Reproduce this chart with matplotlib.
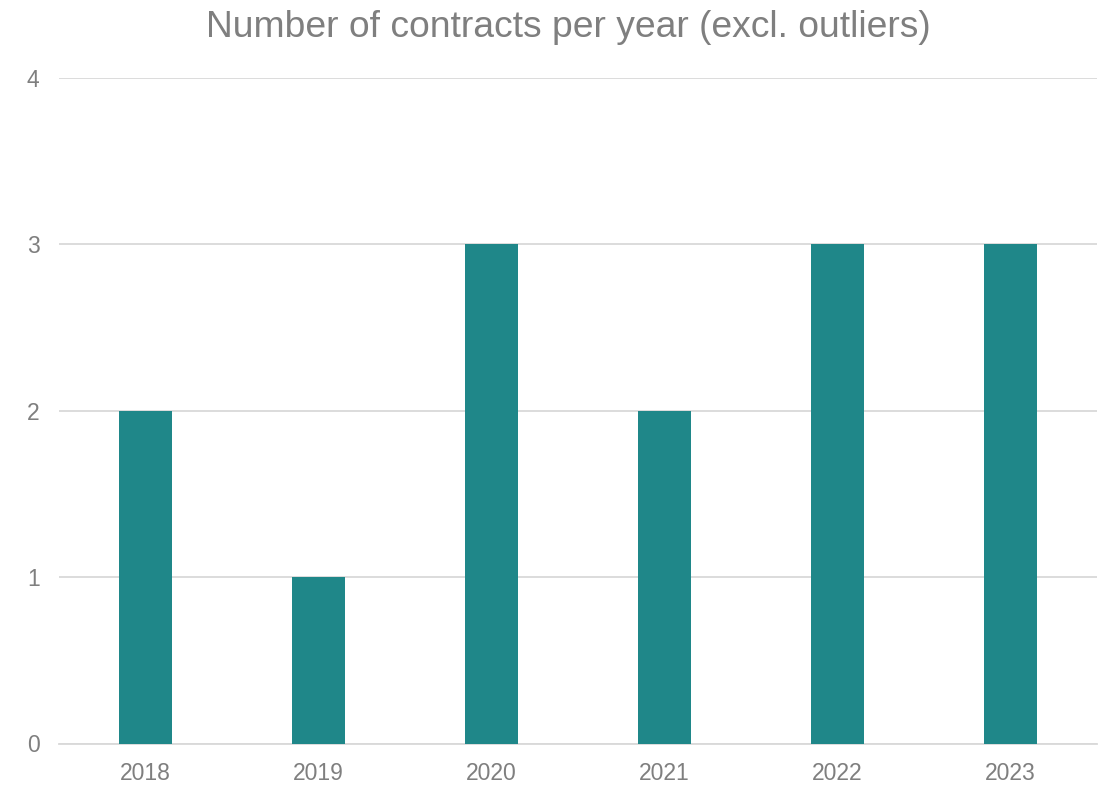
import matplotlib
matplotlib.use("Agg")
import matplotlib.pyplot as plt

years = ["2018", "2019", "2020", "2021", "2022", "2023"]
contracts = [2, 1, 3, 2, 3, 3]
y_ticks = [0, 1, 2, 3, 4]
title = "Number of contracts per year (excl. outliers)"

BAR = "#1F8789"
TEXT = "#7F7F7F"
GRID = "#D9D9D9"

plt.rcParams["font.family"] = ["Liberation Sans", "DejaVu Sans"]

W, H = 1098, 786
fig = plt.figure(figsize=(W / 100, H / 100), dpi=100)
left, right, top, bottom = 59, 1097, 78, 743.5
ax = fig.add_axes([left / W, 1 - bottom / H, (right - left) / W, (bottom - top) / H])

x = range(len(years))
ax.bar(x, contracts, width=0.31, color=BAR, zorder=3)

ax.set_xlim(-0.5, len(years) - 0.5)
ax.set_ylim(0, 4)
ax.set_yticks(y_ticks)
ax.set_xticks(list(x))
ax.set_xticklabels(years)
ax.tick_params(axis="both", length=0, colors=TEXT, labelsize=16.5)
ax.tick_params(axis="y", pad=14)
ax.tick_params(axis="x", pad=13)
ax.yaxis.grid(True, color=GRID, linewidth=1.3, zorder=0)
for s in ["top", "right", "left"]:
    ax.spines[s].set_visible(False)
ax.spines["bottom"].set_color(GRID)
ax.spines["bottom"].set_linewidth(1.3)

fig.text(568.5 / W, 1 - 37 / H, title, ha="center", va="baseline",
         color=TEXT, fontsize=26.8)

fig.savefig("out.png", dpi=100, facecolor="white")
